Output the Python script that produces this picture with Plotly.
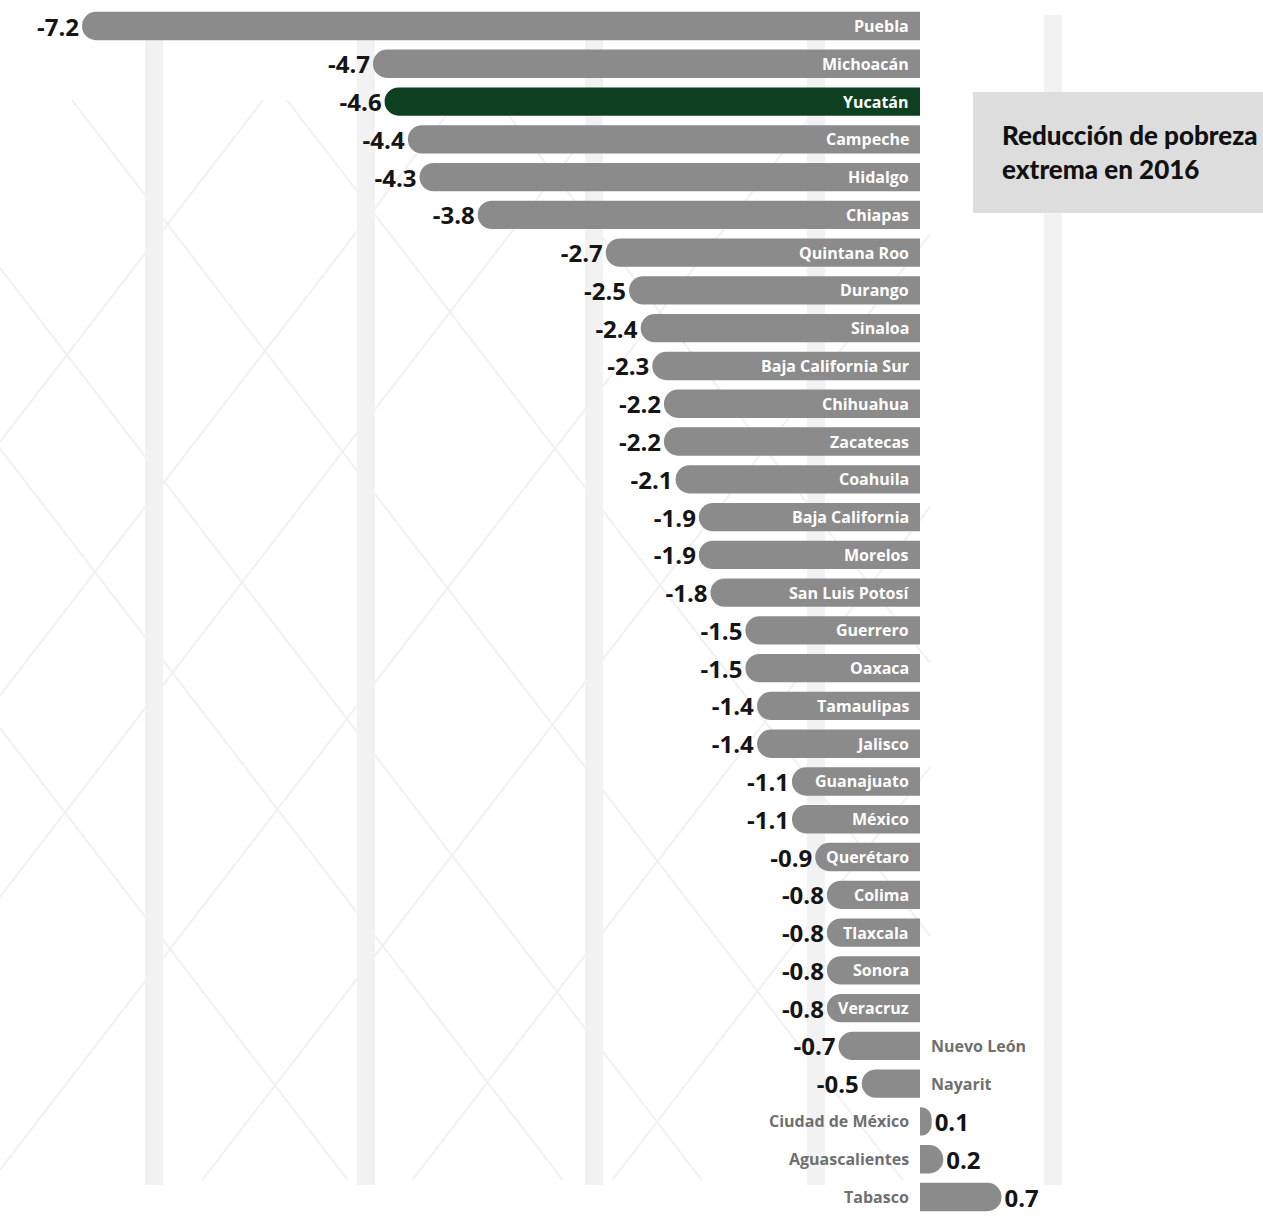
import plotly.graph_objects as go

# ---------------- data ----------------
states = ["Puebla", "Michoacán", "Yucatán", "Campeche", "Hidalgo", "Chiapas",
          "Quintana Roo", "Durango", "Sinaloa", "Baja California Sur", "Chihuahua",
          "Zacatecas", "Coahuila", "Baja California", "Morelos", "San Luis Potosí",
          "Guerrero", "Oaxaca", "Tamaulipas", "Jalisco", "Guanajuato", "México",
          "Querétaro", "Colima", "Tlaxcala", "Sonora", "Veracruz", "Nuevo León",
          "Nayarit", "Ciudad de México", "Aguascalientes", "Tabasco"]
values = [-7.2, -4.7, -4.6, -4.4, -4.3, -3.8, -2.7, -2.5, -2.4, -2.3, -2.2,
          -2.2, -2.1, -1.9, -1.9, -1.8, -1.5, -1.5, -1.4, -1.4, -1.1, -1.1,
          -0.9, -0.8, -0.8, -0.8, -0.8, -0.7, -0.5, 0.1, 0.2, 0.7]
highlight = "Yucatán"
title_lines = ["Reducción de pobreza", "extrema en 2016"]

# ---------------- layout constants ----------------
W, H = 1263, 1218
ZERO_PX = 920          # pixel position of zero
LEFT_PX = 82           # pixel position of the most negative value
ROW0, ROW_LAST = 26, 1197
GRAY, GREEN = "#8b8b8b", "#0c4020"
NAME_SIZE, VAL_SIZE = 16, 24
FONT = "Open Sans"

n = len(states)
row_step = (ROW_LAST - ROW0) / (n - 1)
k = (ZERO_PX - LEFT_PX) / abs(min(values))          # px per unit
x_range = [-ZERO_PX / k, (W - ZERO_PX) / k]
y_range = [n - 1 + (H - ROW_LAST) / row_step, -ROW0 / row_step]

colors = [GREEN if s == highlight else GRAY for s in states]

fig = go.Figure()
fig.add_trace(go.Bar(
    x=values, y=states, orientation="h",
    marker=dict(color=colors, cornerradius=14, line_width=0),
    width=0.75,
    text=[f"{v:.1f}" for v in values],
    textposition="outside",
    textfont=dict(family=FONT, size=VAL_SIZE, color="#151515", weight="bold"),
    constraintext="none",
    cliponaxis=False,
    hoverinfo="skip",
))

# state names: inside the bar when they fit, otherwise on the other side of zero
annotations = []
for s, v in zip(states, values):
    est_w = 0.56 * NAME_SIZE * len(s)
    fits = v < 0 and est_w + 18 <= abs(v) * k
    if fits:
        annotations.append(dict(x=0, y=s, xref="x", yref="y", text=s, showarrow=False,
                                xanchor="right", xshift=-9,
                                font=dict(family=FONT, size=NAME_SIZE, color="white", weight="bold")))
    else:
        annotations.append(dict(x=0, y=s, xref="x", yref="y", text=s, showarrow=False,
                                xanchor="left" if v < 0 else "right",
                                xshift=9 if v < 0 else -9,
                                font=dict(family=FONT, size=NAME_SIZE, color="#6f6f6f", weight="bold")))

# title box text
annotations.append(dict(x=1000 / W, y=1 - 152 / H, xref="paper", yref="paper",
                        text="<br>".join(title_lines), showarrow=False,
                        xanchor="left", yanchor="middle", align="left",
                        font=dict(family="Lato", size=26, color="#111111", weight=900)))

shapes = []
# decorative faint lattice
def seg(c, sign):
    y0, y1 = 100.0, 1180.0
    xa, xb = c + sign * y0 / 1.3, c + sign * y1 / 1.3
    def y_at(x):
        return (x - c) * 1.3 * sign
    lo, hi = 0.0, 930.0
    ya, yb = y0, y1
    if xa < lo: xa, ya = lo, y_at(lo)
    if xa > hi: xa, ya = hi, y_at(hi)
    if xb < lo: xb, yb = lo, y_at(lo)
    if xb > hi: xb, yb = hi, y_at(hi)
    if ya >= yb or not (y0 <= ya <= y1) or not (y0 <= yb <= y1):
        return None
    return (xa, ya, xb, yb)

for c, sign in [(c, 1) for c in [-560, -345, -206, -5, 210, 420]] + \
               [(d, -1) for d in [340, 535, 690, 900, 1110, 1320, 1520]]:
    sg = seg(c, sign)
    if sg:
        shapes.append(dict(type="line", xref="paper", yref="paper", layer="below",
                           x0=sg[0] / W, y0=1 - sg[1] / H, x1=sg[2] / W, y1=1 - sg[3] / H,
                           line=dict(color="#f1f1f1", width=2)))

# light vertical stripes
for cx, top in [(154, 40), (366, 40), (594, 40), (816, 40), (1053, 15)]:
    shapes.append(dict(type="rect", xref="paper", yref="paper", layer="below",
                       x0=(cx - 9) / W, x1=(cx + 9) / W, y0=1 - 1185 / H, y1=1 - top / H,
                       fillcolor="#f2f2f2", line_width=0))

# title box
shapes.append(dict(type="rect", xref="paper", yref="paper", layer="below",
                   x0=973 / W, x1=1.0, y0=1 - 213 / H, y1=1 - 92 / H,
                   fillcolor="#dddddd", line_width=0))

fig.update_layout(
    width=W, height=H,
    margin=dict(l=0, r=0, t=0, b=0),
    paper_bgcolor="white", plot_bgcolor="rgba(0,0,0,0)",
    showlegend=False,
    bargap=0.25,
    xaxis=dict(range=x_range, visible=False, fixedrange=True),
    yaxis=dict(range=y_range, type="category", categoryorder="array",
               categoryarray=states, visible=False, fixedrange=True),
    annotations=annotations,
    shapes=shapes,
)

fig.write_html("out.html", config={"displayModeBar": False},
               post_script="document.body.style.margin='0';document.body.style.overflow='hidden';")
